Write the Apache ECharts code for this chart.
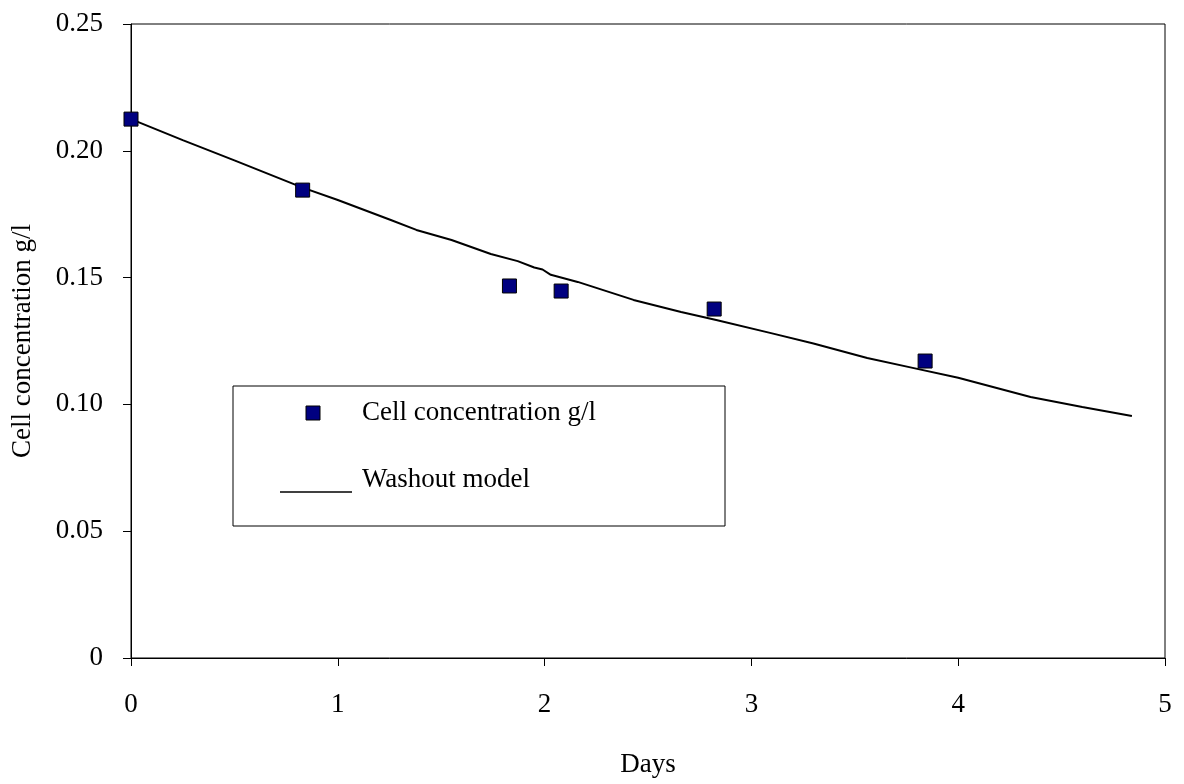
<!DOCTYPE html>
<html>
<head>
<meta charset="utf-8">
<script src="https://cdn.jsdelivr.net/npm/echarts@6/dist/echarts.min.js"></script>
<style>
html,body{margin:0;padding:0;background:#fff;}
#chart{width:1184px;height:784px;}
</style>
</head>
<body>
<div id="chart"></div>
<script>
// Measured data points: [day, cell concentration g/l]
const measuredDays = [0, 0.83, 1.83, 2.08, 2.82, 3.84];
const measuredConc = [0.2125, 0.1845, 0.1467, 0.1447, 0.1376, 0.1171];

// Washout model curve
const modelDays = [0, 0.25, 0.5, 0.83, 1.0, 1.25, 1.38, 1.55, 1.74, 1.87, 1.95, 1.99, 2.03, 2.16, 2.43, 2.66, 2.83, 3.1, 3.3, 3.56, 3.78, 4.0, 4.35, 4.6, 4.84];
const modelConc = [0.2125, 0.2042, 0.1962, 0.1855, 0.1806, 0.1729, 0.1688, 0.1648, 0.1593, 0.1565, 0.1540, 0.1532, 0.1511, 0.1483, 0.1412, 0.1364, 0.1333, 0.1280, 0.1240, 0.1183, 0.1144, 0.1105, 0.1029, 0.0990, 0.0954];

const seriesNames = ['Cell concentration g/l', 'Washout model'];
const xAxisName = 'Days';
const yAxisName = 'Cell concentration g/l';

const FONT = '"Liberation Serif", "Times New Roman", serif';
const FS = 27;
const chart = echarts.init(document.getElementById('chart'), null, {renderer: 'canvas'});

const option = {
  backgroundColor: '#fff',
  animation: false,
  grid: {left: 131, right: 19, top: 24, bottom: 126, show: true, borderColor: '#000', borderWidth: 1, backgroundColor: 'transparent'},
  xAxis: {
    type: 'value', min: 0, max: 5, interval: 1,
    name: xAxisName, nameLocation: 'middle', nameGap: 93,
    nameTextStyle: {fontFamily: FONT, fontSize: FS, color: '#000'},
    axisLine: {show: true, lineStyle: {color: '#000', width: 1}},
    axisTick: {show: true, length: 8, inside: false, lineStyle: {color: '#000'}},
    axisLabel: {fontFamily: FONT, fontSize: FS, color: '#000', margin: 33},
    splitLine: {show: false}
  },
  yAxis: {
    type: 'value', min: 0, max: 0.25, interval: 0.05,
    name: yAxisName, nameLocation: 'middle', nameGap: 95, nameRotate: 90,
    nameTextStyle: {fontFamily: FONT, fontSize: FS, color: '#000'},
    axisLine: {show: true, lineStyle: {color: '#000', width: 1}},
    axisTick: {show: true, length: 8, lineStyle: {color: '#000'}},
    axisLabel: {fontFamily: FONT, fontSize: FS, color: '#000', margin: 28,
      formatter: v => v === 0 ? '0' : v.toFixed(2)},
    splitLine: {show: false}
  },
  series: [
    {
      name: seriesNames[1], type: 'line', smooth: false, symbol: 'none',
      lineStyle: {color: '#000', width: 2},
      data: modelDays.map((d, i) => [d, modelConc[i]]), z: 2
    },
    {
      name: seriesNames[0], type: 'scatter', symbol: 'rect', symbolSize: 14,
      itemStyle: {color: '#000080', borderColor: '#000', borderWidth: 1, opacity: 1},
      data: measuredDays.map((d, i) => [d, measuredConc[i]]), z: 3
    }
  ],
  graphic: [
    {type: 'rect', shape: {x: 233, y: 386, width: 492, height: 140},
      style: {fill: '#fff', stroke: '#000', lineWidth: 1}, z: 10},
    {type: 'rect', shape: {x: 306, y: 406, width: 14, height: 14},
      style: {fill: '#000080', stroke: '#000', lineWidth: 1}, z: 11},
    {type: 'text', x: 362, y: 413, z: 11,
      style: {text: seriesNames[0], font: FS + 'px ' + FONT, fill: '#000', textVerticalAlign: 'middle', verticalAlign: 'middle'}},
    {type: 'line', shape: {x1: 280, y1: 492, x2: 352, y2: 492},
      style: {stroke: '#000', lineWidth: 1.5}, z: 11},
    {type: 'text', x: 362, y: 480, z: 11,
      style: {text: seriesNames[1], font: FS + 'px ' + FONT, fill: '#000', textVerticalAlign: 'middle', verticalAlign: 'middle'}}
  ]
};
chart.setOption(option);
</script>
</body>
</html>
